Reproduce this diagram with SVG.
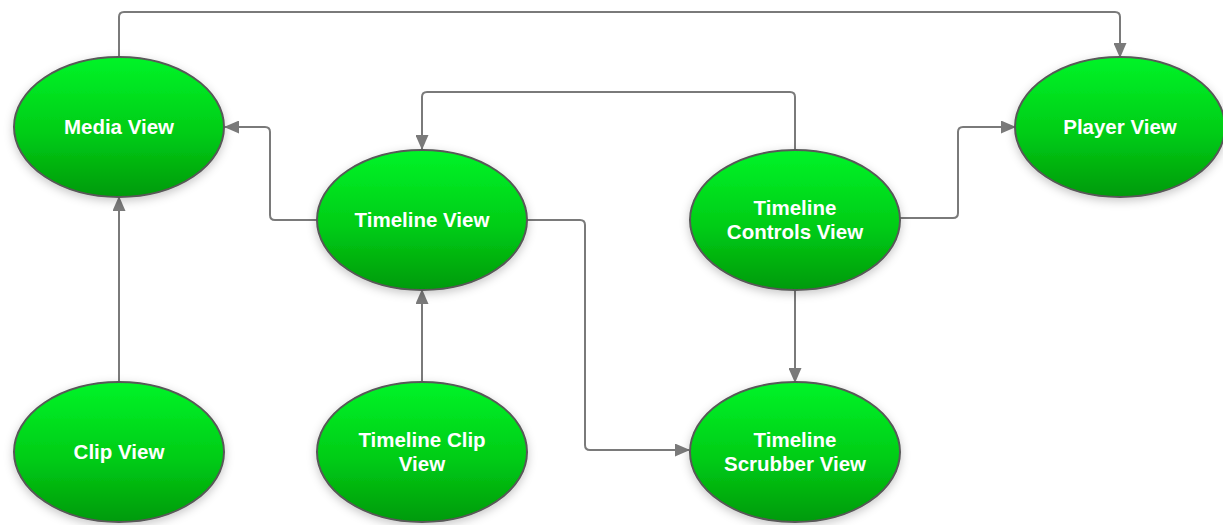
<svg xmlns="http://www.w3.org/2000/svg" width="1223" height="525" viewBox="0 0 1223 525">
  <style>
    .node ellipse { fill: url(#green); stroke: #585858; stroke-width: 2; filter: url(#shadow); }
    .node text { fill: #ffffff; font-family: "Liberation Sans", Arial, sans-serif; font-weight: bold; font-size: 20.5px; text-anchor: middle; }
    .edge { fill: none; stroke: #7a7a7a; stroke-width: 2; marker-end: url(#arrow); }
  </style>
  <defs>
    <linearGradient id="green" x1="0" y1="0" x2="0" y2="1">
      <stop offset="0" stop-color="#00f428"/>
      <stop offset="0.55" stop-color="#00cc16"/>
      <stop offset="1" stop-color="#009a08"/>
    </linearGradient>
    <filter id="shadow" x="-20%" y="-20%" width="140%" height="150%">
      <feDropShadow dx="0" dy="3" stdDeviation="5" flood-color="#000000" flood-opacity="0.22"/>
    </filter>
    <marker id="arrow" markerUnits="userSpaceOnUse" markerWidth="15" markerHeight="13" refX="14" refY="6.5" orient="auto">
      <path d="M0,0 L15,6.5 L0,13 z" fill="#7a7a7a"/>
    </marker>
  </defs>

  <rect width="1223" height="525" fill="#ffffff"/>

  <!-- orthogonal links with rounded bends -->
  <g id="connectors">
    <path class="edge" d="M119,57 V17 Q119,12 124,12 H1115 Q1120,12 1120,17 V57"/>
    <path class="edge" d="M317,220 H275 Q270,220 270,215 V132 Q270,127 265,127 H225"/>
    <path class="edge" d="M795,150 V97 Q795,92 790,92 H427 Q422,92 422,97 V149"/>
    <path class="edge" d="M527,220 H580 Q585,220 585,225 V445 Q585,450 590,450 H689"/>
    <path class="edge" d="M900,218 H953 Q958,218 958,213 V132 Q958,127 963,127 H1015"/>
    <path class="edge" d="M795,290 V382"/>
    <path class="edge" d="M422,381 V290"/>
    <path class="edge" d="M119,381 V197"/>
  </g>

  <g id="media-view" class="node">
    <ellipse cx="119" cy="127" rx="105" ry="70"/>
    <text x="119" y="134">Media View</text>
  </g>
  <g id="player-view" class="node">
    <ellipse cx="1120" cy="127" rx="105" ry="70"/>
    <text x="1120" y="134">Player View</text>
  </g>
  <g id="timeline-view" class="node">
    <ellipse cx="422" cy="220" rx="105" ry="70"/>
    <text x="422" y="227">Timeline View</text>
  </g>
  <g id="timeline-controls-view" class="node">
    <ellipse cx="795" cy="220" rx="105" ry="70"/>
    <text x="795" y="215">Timeline</text>
    <text x="795" y="239">Controls View</text>
  </g>
  <g id="clip-view" class="node">
    <ellipse cx="119" cy="452" rx="105" ry="70"/>
    <text x="119" y="459">Clip View</text>
  </g>
  <g id="timeline-clip-view" class="node">
    <ellipse cx="422" cy="452" rx="105" ry="70"/>
    <text x="422" y="447">Timeline Clip</text>
    <text x="422" y="471">View</text>
  </g>
  <g id="timeline-scrubber-view" class="node">
    <ellipse cx="795" cy="452" rx="105" ry="70"/>
    <text x="795" y="447">Timeline</text>
    <text x="795" y="471">Scrubber View</text>
  </g>
</svg>
